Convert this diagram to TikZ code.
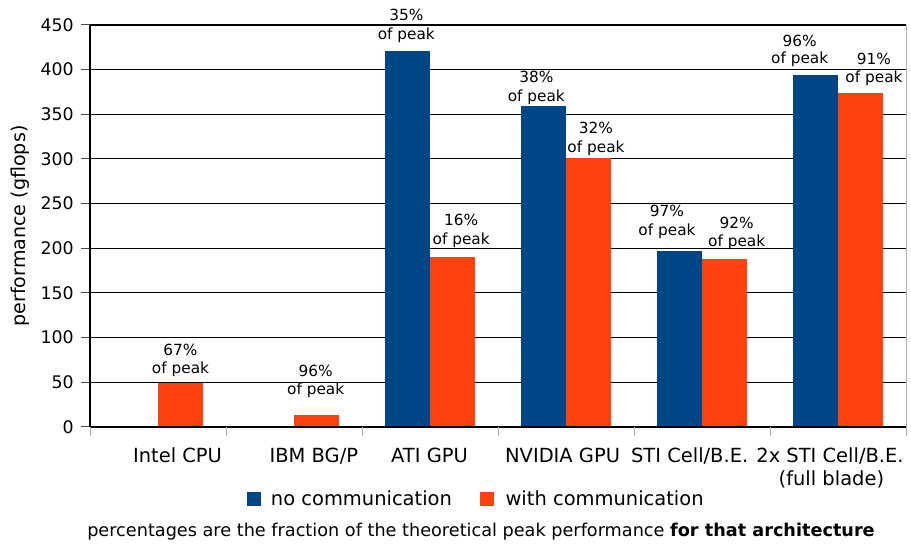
\documentclass[tikz,border=0pt]{standalone}
\usepackage{fontspec}
\setmainfont{DejaVu Sans}
\definecolor{sblue}{HTML}{004586}
\definecolor{sorange}{HTML}{FF420E}
\definecolor{tickgray}{HTML}{B3B3B3}
\begin{document}
\begin{tikzpicture}[x=0.75pt,y=-0.75pt,
  gridline/.style={black,line width=0.75pt},
  ticky/.style={black!70,line width=0.75pt},
  tickx/.style={tickgray,line width=0.75pt},
  ticklab/.style={font=\fontsize{13}{15.6}\selectfont,inner sep=0pt,anchor=east},
  catlab/.style={font=\fontsize{14.6}{17.5}\selectfont,inner sep=0pt,anchor=base},
  pctlab/.style={font=\fontsize{11.5}{13.8}\selectfont,inner sep=0pt,anchor=base},
  leglab/.style={font=\fontsize{14.6}{17.5}\selectfont,inner sep=0pt,anchor=base west},
  barblue/.style={fill=sblue},
  barorange/.style={fill=sorange}]
\useasboundingbox (0,0) rectangle (911,545);
% grid, y ticks and labels
\foreach \v in {0,50,...,450}{
  \draw[gridline] (90,{427-\v*0.893333}) -- (906,{427-\v*0.893333});
  \draw[ticky] (81,{427-\v*0.893333}) -- (90,{427-\v*0.893333});
  \node[ticklab] (t\v) at (74,{427-\v*0.893333}) {\v};
}
% bars
\foreach \c/\b/\o in {158/427/382.7,294/427/415,430/51/256.7,566/106/158.3,702/251/259,838/75/93}{
  \fill[barblue] ({\c-45.3},427) rectangle (\c,\b);
  \fill[barorange] (\c,427) rectangle ({\c+45.3},\o);
}
% axes
\draw[tickgray,line width=0.75pt] (906,25) -- (906,427);
\draw[black,line width=0.9pt] (90,25) -- (906,25);
\draw[black,line width=0.9pt] (90,25) -- (90,427);
\draw[black,line width=0.9pt] (90,427) -- (906,427);
\foreach \k in {0,...,6}{
  \draw[tickx] ({90+136*\k},427) -- ({90+136*\k},436);
}
% percentage labels
\foreach \n/\x/\ya/\yb/\p in {a/180.5/356/374/67,b/315.7/376.7/394.3/96,c/406.3/20.7/40/35,d/461.2/225.7/244.3/16,e/536.3/82.3/101.7/38,f/596/134/152.7/32,g/667/216.7/235.7/97,h/736.7/228.3/246.7/92,i/799.7/46.7/64/96,j/874/65/82.7/91}{
  \node[pctlab] (p\n) at (\x,\ya) {\p\%};
  \node[pctlab] (q\n) at (\x,\yb) {of peak};
}
% category labels
\node[catlab] (c1) at (177.5,462) {Intel CPU};
\node[catlab] (c2) at (313.8,462) {IBM BG/P};
\node[catlab] (c3) at (429.5,462) {ATI GPU};
\node[catlab] (c4) at (562.6,462) {NVIDIA GPU};
\node[catlab] (c5) at (689.7,462) {STI Cell/B.E.};
\node[catlab] (c6) at (830,462) {2x STI Cell/B.E.};
\node[catlab] (c6b) at (831.4,485.5) {(full blade)};
% y axis label
\node[font=\fontsize{14.3}{17}\selectfont,inner sep=0pt,rotate=90,anchor=base] (ylab) at (26,226) {performance (gflops)};
% legend
\fill[sblue] (247,492.3) rectangle (261,505.7);
\node[leglab] (l1) at (270.7,505) {no communication};
\fill[sorange] (480,492.3) rectangle (494,505.7);
\node[leglab] (l2) at (505.3,505) {with communication};
% note
\node[font=\fontsize{13.25}{15.9}\selectfont,inner sep=0pt,anchor=base] (note) at (481,536.7) {percentages are the fraction of the theoretical peak performance \textbf{for that architecture}};
\end{tikzpicture}
\end{document}
